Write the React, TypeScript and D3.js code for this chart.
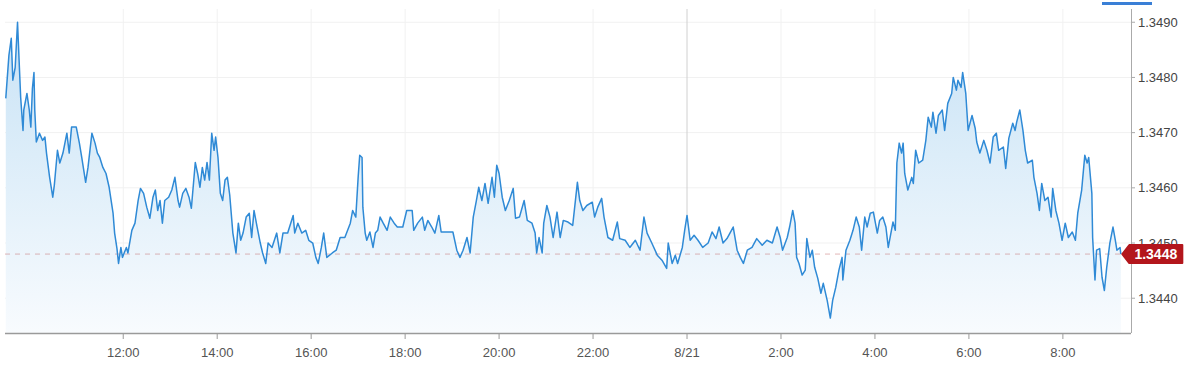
import React from "react";
import * as d3 from "d3";

// Session start: 2019-08-20 09:29 (minutes offsets below are from this time)
const startTime = new Date(2019, 7, 20, 9, 29);
const spanMinutes = 1438;

// [minutes since start, price]
const series: [number, number][] = [
  [1,1.34762],[5,1.34840],[8,1.34871],[10,1.34795],[13,1.34818],[16,1.34900],[18,1.34831],[20,1.34764],
  [23,1.34704],[24,1.34741],[28,1.34771],[31,1.34741],[33,1.34710],[35,1.34780],[37,1.34809],[38,1.34741],
  [40,1.34683],[44,1.34699],[48,1.34686],[51,1.34692],[53,1.34663],[57,1.34619],[61,1.34583],[63,1.34605],
  [67,1.34668],[70,1.34645],[74,1.34663],[79,1.34699],[82,1.34663],[85,1.34710],[91,1.34710],[95,1.34681],
  [98,1.34655],[103,1.34610],[106,1.34637],[111,1.34699],[115,1.34681],[118,1.34663],[121,1.34655],[125,1.34637],
  [129,1.34626],[133,1.34601],[138,1.34554],[140,1.34518],[143,1.34490],[145,1.34463],[148,1.34492],[150,1.34474],
  [155,1.34492],[157,1.34482],[162,1.34523],[166,1.34536],[170,1.34577],[173,1.34599],[177,1.34590],[181,1.34565],
  [185,1.34545],[189,1.34583],[192,1.34596],[195,1.34559],[198,1.34577],[201,1.34536],[204,1.34577],[209,1.34583],
  [213,1.34596],[217,1.34619],[221,1.34577],[223,1.34565],[227,1.34590],[231,1.34599],[235,1.34583],[238,1.34563],
  [243,1.34646],[246,1.34626],[249,1.34601],[252,1.34637],[255,1.34614],[258,1.34646],[261,1.34614],[264,1.34699],
  [267,1.34668],[269,1.34692],[272,1.34655],[275,1.34590],[278,1.34577],[281,1.34614],[284,1.34619],[287,1.34587],
  [291,1.34518],[295,1.34482],[298,1.34536],[301,1.34505],[304,1.34518],[308,1.34547],[312,1.34554],[315,1.34510],
  [318,1.34559],[322,1.34529],[326,1.34500],[329,1.34482],[333,1.34463],[336,1.34500],[341,1.34492],[347,1.34518],
  [351,1.34482],[355,1.34518],[361,1.34518],[368,1.34550],[370,1.34518],[374,1.34536],[379,1.34518],[384,1.34523],
  [388,1.34505],[393,1.34500],[397,1.34474],[400,1.34463],[404,1.34492],[407,1.34518],[411,1.34474],[418,1.34482],
  [423,1.34487],[428,1.34510],[434,1.34510],[441,1.34536],[444,1.34559],[448,1.34547],[451,1.34619],[453,1.34659],
  [456,1.34655],[457,1.34565],[460,1.34518],[462,1.34505],[466,1.34520],[470,1.34492],[473,1.34518],[476,1.34523],
  [479,1.34547],[483,1.34536],[488,1.34523],[492,1.34547],[497,1.34536],[501,1.34529],[508,1.34529],[513,1.34559],
  [520,1.34559],[522,1.34523],[527,1.34536],[533,1.34547],[536,1.34523],[540,1.34541],[545,1.34529],[549,1.34518],
  [554,1.34550],[557,1.34520],[564,1.34520],[572,1.34520],[577,1.34487],[581,1.34474],[585,1.34487],[590,1.34510],
  [594,1.34482],[598,1.34547],[602,1.34577],[605,1.34601],[609,1.34577],[613,1.34608],[617,1.34572],[622,1.34619],
  [625,1.34583],[628,1.34641],[631,1.34626],[635,1.34583],[639,1.34559],[644,1.34577],[649,1.34599],[652,1.34545],
  [657,1.34547],[663,1.34577],[667,1.34541],[673,1.34536],[677,1.34518],[679,1.34482],[682,1.34510],[686,1.34482],
  [688,1.34536],[692,1.34568],[696,1.34547],[700,1.34510],[705,1.34556],[709,1.34510],[713,1.34541],[719,1.34538],
  [725,1.34532],[731,1.34610],[734,1.34577],[738,1.34559],[743,1.34568],[750,1.34574],[753,1.34547],[757,1.34565],
  [762,1.34581],[765,1.34547],[770,1.34510],[776,1.34505],[782,1.34538],[785,1.34508],[792,1.34505],[798,1.34492],
  [805,1.34505],[811,1.34487],[816,1.34547],[820,1.34518],[826,1.34500],[833,1.34478],[839,1.34469],[845,1.34454],
  [847,1.34500],[852,1.34463],[856,1.34478],[859,1.34463],[865,1.34492],[868,1.34523],[871,1.34550],[875,1.34505],
  [880,1.34514],[885,1.34505],[891,1.34492],[898,1.34500],[903,1.34520],[908,1.34508],[912,1.34529],[917,1.34500],
  [922,1.34508],[930,1.34529],[935,1.34487],[939,1.34474],[943,1.34463],[948,1.34487],[954,1.34492],[960,1.34508],
  [967,1.34496],[973,1.34505],[980,1.34500],[986,1.34529],[990,1.34510],[993,1.34487],[999,1.34510],[1002,1.34529],
  [1006,1.34559],[1009,1.34536],[1011,1.34474],[1014,1.34463],[1018,1.34442],[1022,1.34451],[1024,1.34508],[1028,1.34474],
  [1031,1.34487],[1034,1.34456],[1038,1.34436],[1042,1.34409],[1045,1.34427],[1050,1.34396],[1054,1.34364],[1057,1.34396],
  [1061,1.34420],[1065,1.34451],[1069,1.34474],[1070,1.34433],[1074,1.34487],[1079,1.34505],[1083,1.34523],[1087,1.34547],
  [1091,1.34529],[1094,1.34487],[1098,1.34547],[1101,1.34529],[1105,1.34554],[1109,1.34556],[1114,1.34518],[1117,1.34541],
  [1121,1.34547],[1125,1.34529],[1128,1.34492],[1134,1.34538],[1137,1.34523],[1139,1.34645],[1142,1.34681],[1145,1.34663],
  [1147,1.34681],[1149,1.34626],[1153,1.34596],[1158,1.34619],[1160,1.34608],[1163,1.34668],[1167,1.34645],[1172,1.34650],
  [1176,1.34686],[1179,1.34728],[1183,1.34710],[1185,1.34737],[1189,1.34699],[1192,1.34731],[1197,1.34741],[1200,1.34704],
  [1204,1.34753],[1209,1.34771],[1211,1.34800],[1215,1.34777],[1217,1.34795],[1221,1.34782],[1223,1.34809],[1227,1.34771],
  [1230,1.34704],[1235,1.34731],[1239,1.34708],[1241,1.34683],[1245,1.34663],[1250,1.34686],[1254,1.34668],[1258,1.34645],
  [1262,1.34692],[1266,1.34699],[1269,1.34668],[1275,1.34674],[1278,1.34635],[1282,1.34690],[1287,1.34717],[1290,1.34704],
  [1292,1.34719],[1296,1.34741],[1300,1.34704],[1303,1.34668],[1306,1.34645],[1312,1.34650],[1314,1.34619],[1318,1.34590],
  [1321,1.34559],[1324,1.34608],[1328,1.34577],[1332,1.34583],[1336,1.34547],[1338,1.34599],[1342,1.34559],[1346,1.34536],
  [1350,1.34505],[1354,1.34536],[1358,1.34510],[1363,1.34520],[1367,1.34505],[1370,1.34554],[1375,1.34596],[1379,1.34659],
  [1382,1.34645],[1384,1.34655],[1388,1.34590],[1389,1.34510],[1392,1.34433],[1394,1.34487],[1398,1.34490],[1401,1.34438],
  [1404,1.34414],[1407,1.34456],[1411,1.34500],[1415,1.34529],[1418,1.34505],[1420,1.34487],[1424,1.34492],[1425,1.34480],
];

const lastPriceLabel = "1.3448";
const lastPrice = 1.3448;

// x ticks: hours since 2019-08-20 00:00
const xTickHours = [12, 14, 16, 18, 20, 22, 24, 26, 28, 30, 32];
const yTicks = [1.344, 1.345, 1.346, 1.347, 1.348, 1.349];
const yDomain: [number, number] = [1.34337, 1.34924];

const W = 1200;
const H = 365;
const left = 5;
const right = 1131;
const top = 9;
const bottom = 333;

const FONT = "'Liberation Sans', Arial, sans-serif";

export default function App() {
  const t0 = startTime.getTime();
  const toDate = (m: number) => new Date(t0 + m * 60000);

  const x = d3
    .scaleTime()
    .domain([toDate(0), toDate(spanMinutes)])
    .range([left, right]);
  const y = d3.scaleLinear().domain(yDomain).range([bottom, top]);

  const dayStart = new Date(2019, 7, 20, 0, 0).getTime();
  const tickDates = xTickHours.map((h) => new Date(dayStart + h * 3600000));
  const fmtTime = d3.timeFormat("%-H:%M");
  const fmtDay = d3.timeFormat("%-m/%-d");
  const fmtTick = (d: Date) =>
    d.getHours() === 0 && d.getMinutes() === 0 ? fmtDay(d) : fmtTime(d);

  const line = d3
    .line<[number, number]>()
    .x((d) => x(toDate(d[0])))
    .y((d) => y(d[1]));
  const area = d3
    .area<[number, number]>()
    .x((d) => x(toDate(d[0])))
    .y0(bottom)
    .y1((d) => y(d[1]));

  const last = series[series.length - 1];
  const lx = x(toDate(last[0]));
  const ly = y(lastPrice);
  const tagL = lx + 1.5;
  const tagW = 60;
  const tagH = 18;

  return (
    <svg
      width={W}
      height={H}
      style={{ position: "absolute", left: 0, top: 0, display: "block", background: "#fff" }}
    >
      <defs>
        <linearGradient id="fillGrad" gradientUnits="userSpaceOnUse" x1="0" y1={top} x2="0" y2={bottom}>
          <stop offset="0%" stopColor="#c6e1f5" />
          <stop offset="45%" stopColor="#dcedf9" />
          <stop offset="100%" stopColor="#f8fbfe" />
        </linearGradient>
      </defs>

      {/* horizontal grid */}
      {yTicks.map((v) => (
        <line key={"hg" + v} x1={left} x2={right} y1={y(v)} y2={y(v)} stroke="#f1f1f1" strokeWidth={1} />
      ))}
      {/* vertical grid */}
      {tickDates.map((d, i) => (
        <line
          key={"vg" + i}
          x1={x(d)}
          x2={x(d)}
          y1={top}
          y2={bottom}
          stroke={d.getHours() === 0 ? "#d0d0d0" : "#f1f1f1"}
          strokeWidth={1}
        />
      ))}

      {/* area + line */}
      <path d={area(series) || ""} fill="url(#fillGrad)" stroke="none" />
      <line
        x1={left}
        x2={lx}
        y1={ly}
        y2={ly}
        stroke="#c87070"
        strokeOpacity={0.5}
        strokeWidth={1}
        strokeDasharray="5,5"
      />
      <path d={line(series) || ""} fill="none" stroke="#2f8ad6" strokeWidth={1.5} strokeLinejoin="round" />

      {/* x axis */}
      <line x1={left} x2={right} y1={bottom + 0.5} y2={bottom + 0.5} stroke="#9a9a9a" strokeWidth={1.5} />
      {tickDates.map((d, i) => (
        <g key={"xt" + i} transform={`translate(${x(d)},${bottom})`}>
          <line y1={1} y2={6} stroke="#9a9a9a" />
          <text y={24} textAnchor="middle" fontFamily={FONT} fontSize={13} fill="#555">
            {fmtTick(d)}
          </text>
        </g>
      ))}

      {/* y axis (right) */}
      <line x1={right + 0.5} x2={right + 0.5} y1={top} y2={bottom} stroke="#aaaaaa" strokeWidth={1} />
      {yTicks.map((v) => (
        <g key={"yt" + v} transform={`translate(${right},${y(v)})`}>
          <line x1={0} x2={4} stroke="#aaaaaa" />
          <text x={7} dy="0.35em" fontFamily={FONT} fontSize={13} fill="#444">
            {d3.format(".4f")(v)}
          </text>
        </g>
      ))}

      {/* last price tag */}
      <path
        d={`M${tagL},${ly} L${tagL + 7},${ly - tagH / 2} H${tagL + tagW} V${ly + tagH / 2} H${tagL + 7} Z`}
        fill="#b3161c"
        stroke="#b3161c"
        strokeLinejoin="round"
        strokeWidth={2}
      />
      <text
        x={tagL + 7 + (tagW - 7) / 2}
        y={ly}
        dy="0.36em"
        textAnchor="middle"
        fontFamily={FONT}
        fontSize={14}
        fontWeight="bold"
        fill="#ffffff"
      >
        {lastPriceLabel}
      </text>

      {/* top-right indicator bar */}
      <rect x={1102} y={2} width={50} height={3} fill="#3a7fd6" />
    </svg>
  );
}
